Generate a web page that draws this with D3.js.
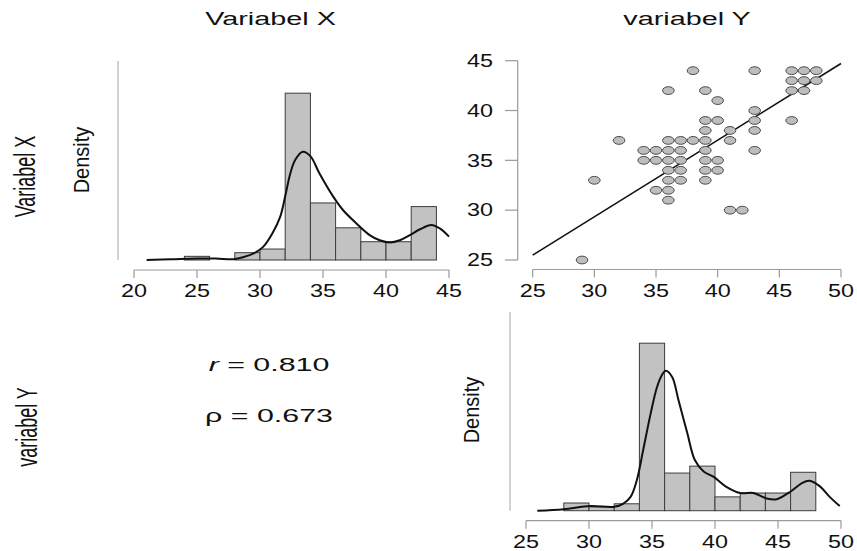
<!DOCTYPE html>
<html><head><meta charset="utf-8">
<script src="https://cdn.jsdelivr.net/npm/d3@7/dist/d3.min.js"></script>
<style>
html,body{margin:0;padding:0;background:#fff;}
text{font-family:"Liberation Sans",Arial,Helvetica,sans-serif;fill:#111;}
</style></head>
<body><svg id="c" width="857" height="551"></svg>
<script>
// ---------- data ----------
const titles = ["Variabel X", "variabel Y"];
const rowLabels = ["Variabel X", "variabel Y"];
// histogram of Variabel X (bin starts, width 2, density)
const histXBins = [24, 26, 28, 30, 32, 34, 36, 38, 40, 42];
const histXDens = [0.005, 0, 0.010, 0.015, 0.228, 0.078, 0.044, 0.025, 0.025, 0.073];
// density curve of Variabel X
const kdeXx = [21.0, 23.0, 25.0, 26.5, 27.9, 28.7, 29.5, 30.25, 31.0, 31.6, 32.0, 32.4, 32.8, 33.4, 34.0, 34.7, 35.8, 36.6, 37.65, 38.7, 39.5, 40.3, 41.1, 41.9, 42.7, 43.6, 44.3, 45.0];
const kdeXy = [0, 0.001, 0.002, 0.002, 0.001, 0.004, 0.009, 0.018, 0.037, 0.059, 0.087, 0.118, 0.137, 0.148, 0.142, 0.119, 0.087, 0.068, 0.050, 0.034, 0.027, 0.024, 0.027, 0.034, 0.042, 0.048, 0.043, 0.032];
// histogram of variabel Y
const histYBins = [28, 30, 32, 34, 36, 38, 40, 42, 44, 46];
const histYDens = [0.010, 0.005, 0.009, 0.218, 0.049, 0.058, 0.018, 0.023, 0.023, 0.050];
// density curve of variabel Y
const kdeYx = [25.9, 28.0, 30.1, 32.0, 32.7, 33.3, 33.8, 34.3, 34.9, 35.4, 35.8, 36.1, 36.6, 37.1, 37.8, 38.4, 39.1, 39.9, 40.9, 42.0, 43.05, 44.1, 44.9, 46.0, 46.9, 47.5, 48.3, 49.1, 49.9];
const kdeYy = [0, 0.002, 0.006, 0.005, 0.009, 0.018, 0.040, 0.079, 0.127, 0.161, 0.177, 0.182, 0.174, 0.144, 0.101, 0.066, 0.051, 0.044, 0.031, 0.023, 0.023, 0.016, 0.015, 0.025, 0.036, 0.039, 0.032, 0.018, 0.006];
// scatter: horizontal = variabel Y, vertical = Variabel X
const scatY = [38,43,46,47,48, 46,47,48, 36,39,46,47, 40, 43, 39,40,43,46, 39,41,43, 32,36,37,38,39,41, 34,35,36,37,39,43, 34,35,36,37,39,40, 36,37,39,40, 30,36,37,39, 35,36, 36, 41,42, 29];
const scatX = [44,44,44,44,44, 43,43,43, 42,42,42,42, 41, 40, 39,39,39,39, 38,38,38, 37,37,37,37,37,37, 36,36,36,36,36,36, 35,35,35,35,35,35, 34,34,34,34, 33,33,33,33, 32,32, 31, 30,30, 25];
const regIntercept = 6.27, regSlope = 0.769;
const statLabels = ["r", "ρ"];
const statValues = ["0.810", "0.673"];
const ticksX1 = [20, 25, 30, 35, 40, 45];
const ticks25 = [25, 30, 35, 40, 45, 50];
const ticksSY = [25, 30, 35, 40, 45];

// ---------- drawing ----------
const svg = d3.select("#c");
const axisCol = "#9a9a9a";
const FS = 18;

function txt(x, y, s, opt) {
  opt = opt || {};
  const sx = opt.sx || 1.55, rot = opt.rot || 0;
  const t = svg.append("text")
    .attr("transform", `translate(${x},${y}) scale(${sx},1)` + (rot ? ` rotate(${rot})` : ""))
    .attr("text-anchor", opt.anchor || "middle")
    .attr("font-size", opt.fs || FS)
    .text(s);
  if (opt.dy) t.attr("dy", opt.dy);
  return t;
}

function xAxis(sc, ticks, yLine, x0, x1) {
  svg.append("line").attr("x1", sc(x0)).attr("x2", sc(x1)).attr("y1", yLine).attr("y2", yLine)
    .attr("stroke", axisCol).attr("stroke-width", 1.2);
  ticks.forEach(t => {
    svg.append("line").attr("x1", sc(t)).attr("x2", sc(t)).attr("y1", yLine).attr("y2", yLine + 8)
      .attr("stroke", axisCol).attr("stroke-width", 1.2);
    txt(sc(t), yLine + 27, t, {sx: 1.3});
  });
}

function histPanel(bins, dens, kx, ky, xs, ys, baseY, topY, lineX) {
  svg.append("line").attr("x1", lineX).attr("x2", lineX).attr("y1", topY).attr("y2", baseY)
    .attr("stroke", "#c4c4c4").attr("stroke-width", 1.5);
  bins.forEach((b, i) => {
    if (dens[i] <= 0) return;
    svg.append("rect").attr("x", xs(b)).attr("width", xs(b + 2) - xs(b))
      .attr("y", ys(dens[i])).attr("height", ys(0) - ys(dens[i]))
      .attr("fill", "#c2c2c2").attr("stroke", "#3c3c3c").attr("stroke-width", 1);
  });
  const pts = kx.map((v, i) => [v, ky[i]]);
  svg.append("path").attr("d", d3.line().x(d => xs(d[0])).y(d => ys(d[1])).curve(d3.curveCatmullRom)(pts))
    .attr("fill", "none").attr("stroke", "#111").attr("stroke-width", 2);
}

// top-left: histogram of Variabel X
const x1 = d3.scaleLinear().domain([20, 45]).range([134, 449]);
const y1 = d3.scaleLinear().domain([0, 0.272]).range([260, 61]);
histPanel(histXBins, histXDens, kdeXx, kdeXy, x1, y1, 260, 61, 118);
xAxis(x1, ticksX1, 270, 20, 45);

// bottom-right: histogram of variabel Y
const x4 = d3.scaleLinear().domain([25, 50]).range([526, 841]);
const y4 = d3.scaleLinear().domain([0, 0.259]).range([510.7, 311.7]);
histPanel(histYBins, histYDens, kdeYx, kdeYy, x4, y4, 510.7, 311.7, 510);
xAxis(x4, ticks25, 520.7, 25, 50);

// top-right: scatter
const xs = d3.scaleLinear().domain([25, 50]).range([532.7, 841]);
const ys = d3.scaleLinear().domain([25, 45]).range([260, 60.7]);
xAxis(xs, ticks25, 269.5, 25, 50);
svg.append("line").attr("x1", 517.7).attr("x2", 517.7).attr("y1", ys(25)).attr("y2", ys(45))
  .attr("stroke", axisCol).attr("stroke-width", 1.2);
ticksSY.forEach(t => {
  svg.append("line").attr("x1", 505).attr("x2", 517.7).attr("y1", ys(t)).attr("y2", ys(t))
    .attr("stroke", axisCol).attr("stroke-width", 1.2);
  txt(493, ys(t), t, {sx: 1.3, anchor: "end", dy: "0.35em"});
});
svg.append("line")
  .attr("x1", xs(25)).attr("y1", ys(regIntercept + regSlope * 25))
  .attr("x2", xs(50)).attr("y2", ys(regIntercept + regSlope * 50))
  .attr("stroke", "#111").attr("stroke-width", 1.6);
scatY.forEach((v, i) => {
  svg.append("ellipse").attr("cx", xs(v)).attr("cy", ys(scatX[i])).attr("rx", 5.8).attr("ry", 3.9)
    .attr("fill", "#bdbdbd").attr("stroke", "#4a4a4a").attr("stroke-width", 1);
});

// titles
txt(270.5, 25, titles[0], {sx: 1.6});
txt(687, 25, titles[1], {sx: 1.6});
// row labels (rotated)
txt(35, 176.5, rowLabels[0], {sx: 1.6, rot: -90});
txt(37, 427, rowLabels[1], {sx: 1.6, rot: -90});
// Density labels
txt(89, 160, "Density", {sx: 1.1, rot: -90, fs: 20});
txt(479, 410, "Density", {sx: 1.1, rot: -90, fs: 20});

// correlation text
[0, 1].forEach(i => {
  const g = txt(269, i === 0 ? 370.7 : 421.5, "", {sx: 1.6, fs: 19});
  g.append("tspan").attr("font-style", i === 0 ? "italic" : "normal").text(statLabels[i]);
  g.append("tspan").text(" = " + statValues[i]);
});
</script></body></html>
